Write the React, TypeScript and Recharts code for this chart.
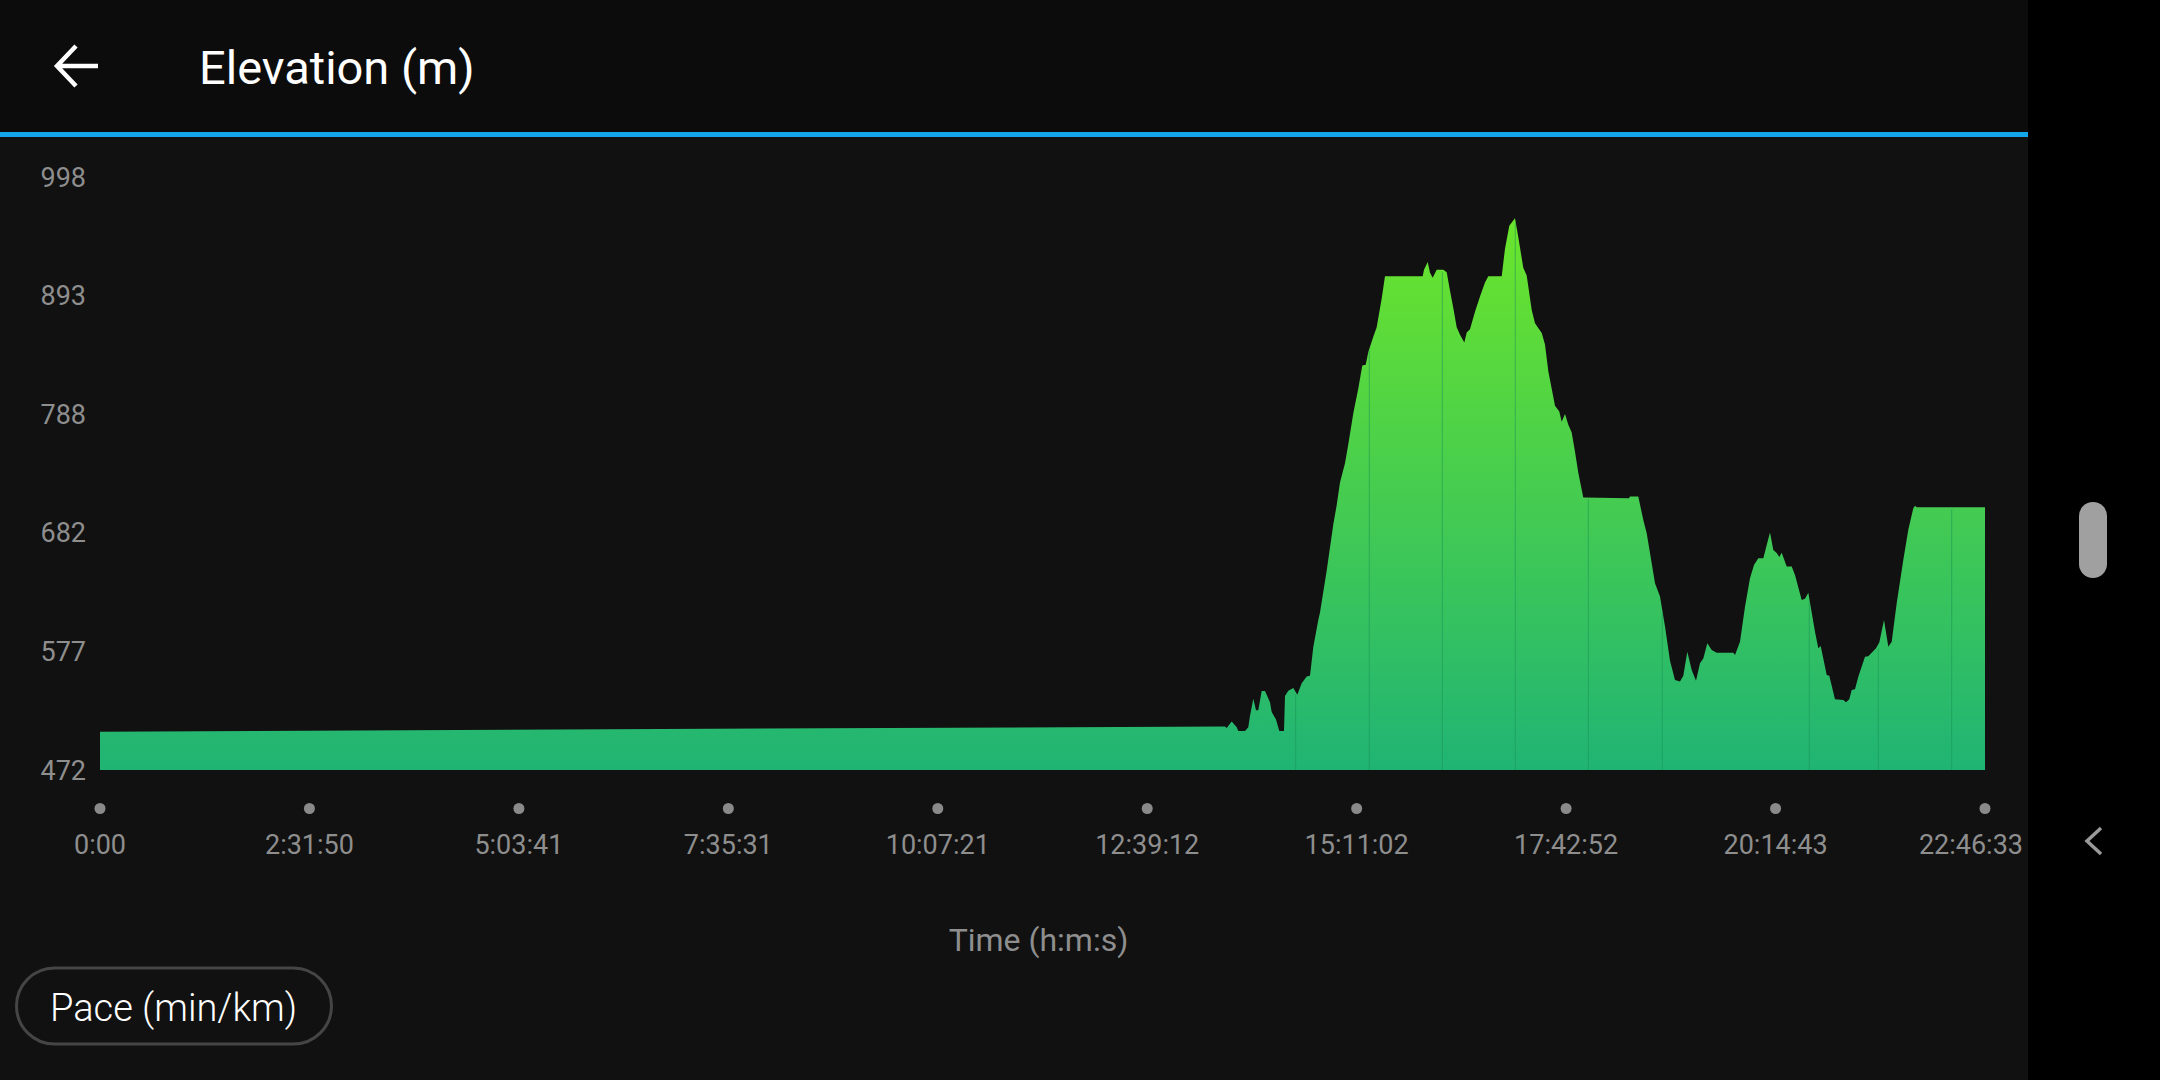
import React from "react";
import { AreaChart, Area, XAxis, YAxis, ReferenceLine } from "recharts";

// elevation profile, time in seconds since start, elevation in metres
const timeSec = [
  0, 48935, 49009, 49226, 49444, 49513, 49805, 49948, 50022, 50166, 50283, 50383,
  50531, 50675, 50892, 50966, 51153, 51297, 51501, 51545, 51688, 51906, 52080,
  52271, 52489, 52632, 52776, 52993, 53067, 53359, 53646, 53794, 53937, 54155,
  54298, 54516, 54733, 54907, 55055, 55168, 55386, 55533, 55751, 55894, 57535,
  57591, 57752, 57852, 57969, 58143, 58430, 58578, 58722, 58865, 59013, 59157,
  59344, 59448, 59592, 59809, 60027, 60244, 60388, 60971, 61114, 61301, 61549,
  61693, 61910, 62058, 62276, 62419, 62711, 62854, 62998, 63289, 63476, 63580,
  63724, 63868, 64015, 64159, 64302, 64520, 66508, 66551, 66912, 67130, 67278,
  67639, 67856, 68074, 68291, 68509, 68726, 68870, 69044, 69235, 69422, 69596,
  69740, 69914, 70105, 70323, 71045, 71119, 71336, 71554, 71771, 71945, 72132,
  72350, 72498, 72641, 72785, 72932, 73046, 73150, 73367, 73585, 73728, 74020,
  74163, 74307, 74411, 74598, 74742, 74846, 75107, 75220, 75468, 75829, 75947,
  76090, 76195, 76338, 76482, 76773, 76917, 77252, 77395, 77600, 77787, 77935,
  78152, 78439, 78657, 78874, 78948, 79022, 81993,
];
const elevation = [
  506, 510.6, 509.3, 515, 510, 506.6, 506.6, 510, 520, 535.3, 525, 525,
  542, 542, 532, 523.5, 516.7, 506.6, 506.6, 537.7, 542.2, 544.8, 538.8,
  549, 555, 555.5, 581, 605, 611.8, 649, 690, 707, 727, 744,
  761, 788.4, 810.4, 830.8, 831.5, 842.7, 856.2, 864.8, 890.3, 910, 910,
  915.7, 922.5, 913, 908.7, 915.7, 915.7, 913.5, 897, 881.8, 864.8, 858,
  851.2, 860, 863, 878.4, 892, 904.5, 910, 910, 934.4, 954.8, 961.5,
  944.6, 917.4, 910.6, 880, 868.2, 859.7, 849.5, 825.7, 795.2, 790, 780.9,
  787.7, 778.2, 771.4, 754.4, 735.7, 713.7, 713, 714.5, 714.5, 693.8, 682,
  637.7, 625.8, 599.2, 569, 551.9, 550.4, 555.5, 577, 560.7, 551.2, 566.7,
  571, 584.4, 578.5, 576, 576, 574, 585.8, 616.8, 642, 653.9, 659.8,
  659.8, 671.6, 682.6, 667.2, 664.5, 661, 664.8, 652.4, 652.4, 645, 622.8,
  624, 629.3, 616.9, 594.7, 580, 582, 556.3, 555.5, 534.7, 534.2, 532,
  534.7, 543, 543.6, 554.8, 572.5, 573, 580, 585, 605, 581.4, 585.8,
  619.9, 658.3, 685, 704.1, 706.3, 705, 705,
];

// thin seams drawn inside the filled area
const seamTimes = [52010, 55211, 58387, 61562, 64738, 67956, 74350, 77352, 80545];
const seamTops = [539, 844, 914, 958, 712, 612, 622, 580, 703];

const xTicks = [0, 9110, 18221, 27331, 36441, 45552, 54662, 63772, 72883, 81993];
const yTicks = [472, 577.2, 682.4, 787.6, 892.8, 998];

const rows = timeSec.map((t, i) => ({ t, elev: elevation[i] }));

const FONT = "Roboto, 'Noto Sans', sans-serif";

function fmtTime(s: number) {
  if (s === 0) return "0:00";
  const h = Math.floor(s / 3600);
  const m = Math.floor((s % 3600) / 60);
  const sec = s % 60;
  return `${h}:${String(m).padStart(2, "0")}:${String(sec).padStart(2, "0")}`;
}

function XTick(props: any) {
  const { x, y, payload } = props;
  const last = payload.value === xTicks[xTicks.length - 1];
  return (
    <g>
      <circle cx={x} cy={y + 38.5} r={5.5} fill="#8a8a8a" />
      <text
        x={last ? x + 38 : x}
        y={y + 84}
        textAnchor={last ? "end" : "middle"}
        fill="#8e8e8e"
        fontSize={27}
        fontFamily={FONT}
      >
        {fmtTime(payload.value)}
      </text>
    </g>
  );
}

function YTick(props: any) {
  const { x, y, payload } = props;
  return (
    <text x={x} y={y} dy="0.355em" textAnchor="end" fill="#8e8e8e" fontSize={27} fontFamily={FONT}>
      {Math.round(payload.value)}
    </text>
  );
}

function AxisTitle(props: any) {
  const vb = props.viewBox || {};
  return (
    <text
      x={vb.x + vb.width / 2 - 4}
      y={vb.y + 181}
      textAnchor="middle"
      fill="#8e8e8e"
      fontSize={32}
      fontFamily={FONT}
    >
      Time (h:m:s)
    </text>
  );
}

export default function App() {
  return (
    <div
      style={{
        position: "absolute",
        left: 0,
        top: 0,
        width: 2160,
        height: 1080,
        background: "#111111",
        overflow: "hidden",
        fontFamily: FONT,
      }}
    >
      {/* header */}
      <div style={{ position: "absolute", left: 0, top: 0, width: 2028, height: 132, background: "#0c0c0c" }} />
      <div style={{ position: "absolute", left: 0, top: 132, width: 2028, height: 5, background: "#14a6ea" }} />
      <svg style={{ position: "absolute", left: 0, top: 0 }} width={2028} height={132}>
        <path d="M57 66 H98 M76 46 L57 66 L76 86" stroke="#ffffff" strokeWidth={4.5} fill="none" />
        <text x={199} y={84} fill="#ffffff" fontSize={47} fontFamily={FONT}>
          Elevation (m)
        </text>
      </svg>

      <div style={{ position: "absolute", left: 0, top: 0 }}>
        <AreaChart
          width={2028}
          height={1080}
          data={rows}
          margin={{ top: 177, right: 43, bottom: 110, left: 20 }}
        >
          <defs>
            <linearGradient id="elevFill" x1="0" y1="0" x2="0" y2="1">
              <stop offset="0%" stopColor="#6be52b" />
              <stop offset="100%" stopColor="#20b474" />
            </linearGradient>
          </defs>
          <XAxis
            dataKey="t"
            type="number"
            domain={[0, 81993]}
            ticks={xTicks}
            interval={0}
            axisLine={false}
            tickLine={false}
            tickSize={0}
            tickMargin={0}
            height={200}
            tick={<XTick />}
            label={<AxisTitle />}
          />
          <YAxis
            type="number"
            domain={[472, 998]}
            ticks={yTicks}
            interval={0}
            allowDataOverflow
            axisLine={false}
            tickLine={false}
            tickSize={0}
            tickMargin={14}
            width={80}
            tick={<YTick />}
          />
          <Area
            type="linear"
            dataKey="elev"
            stroke="none"
            fill="url(#elevFill)"
            fillOpacity={1}
            isAnimationActive={false}
          />
          {seamTimes.map((t, i) => (
            <ReferenceLine
              key={t}
              segment={[
                { x: t, y: 472 },
                { x: t, y: seamTops[i] },
              ]}
              stroke="#1c8f55"
              strokeOpacity={0.55}
              strokeWidth={1}
            />
          ))}
        </AreaChart>
      </div>

      {/* Pace button */}
      <svg style={{ position: "absolute", left: 0, top: 950 }} width={400} height={120}>
        <rect x={16.5} y={18} width={315} height={76} rx={38} fill="none" stroke="#454545" strokeWidth={3} />
        <text x={50} y={71} fill="#ffffff" fontSize={38} fontWeight={300} fontFamily={FONT}>
          Pace (min/km)
        </text>
      </svg>

      {/* right system strip */}
      <div style={{ position: "absolute", left: 2028, top: 0, width: 132, height: 1080, background: "#000000" }}>
        <div
          style={{
            position: "absolute",
            left: 51,
            top: 502,
            width: 28,
            height: 76,
            borderRadius: 14,
            background: "#a0a0a0",
          }}
        />
        <svg style={{ position: "absolute", left: 0, top: 800 }} width={132} height={80}>
          <path d="M73 28 L59 41 L73 54" stroke="#9a9a9a" strokeWidth={3.5} fill="none" />
        </svg>
      </div>
    </div>
  );
}
